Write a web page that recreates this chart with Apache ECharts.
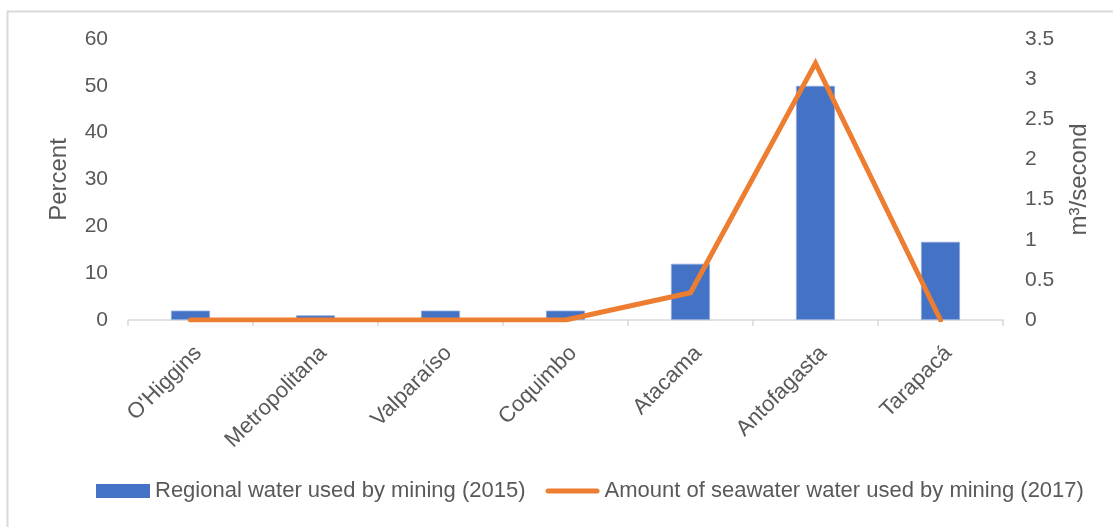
<!DOCTYPE html>
<html>
<head>
<meta charset="utf-8">
<script src="https://cdn.jsdelivr.net/npm/echarts@6/dist/echarts.min.js"></script>
<style>
  html, body { margin: 0; padding: 0; background: #fff; }
  #chart { width: 1113px; height: 527px; }
</style>
</head>
<body>
<div id="chart"></div>
<script>
// Mining regions of Chile
const regions = ['O\'Higgins', 'Metropolitana', 'Valparaíso', 'Coquimbo', 'Atacama', 'Antofagasta', 'Tarapacá'];
// Share of regional water used by mining, 2015 (%)
const miningWaterShare = [2, 1, 2, 2, 12, 50, 16.7];
// Seawater used by mining, 2017 (m³/s)
const seawaterUse = [0, 0, 0, 0, 0.34, 3.2, 0];
const barName = 'Regional water used by mining (2015)';
const lineName = 'Amount of seawater water used by mining (2017)';

const font = 'Liberation Sans, Arial, sans-serif';
const textColor = '#595959';
const barColor = '#4472C4';
const lineColor = '#ED7D31';

// thin rounded stroke for the line legend key (invisible moveTo points keep the full key box)
const lineKey = 'path://M0,0 M54,14 M2.5,4.5 L51.5,4.5 A2.5,2.5 0 0 1 51.5,9.5 L2.5,9.5 A2.5,2.5 0 0 1 2.5,4.5 Z';

const chart = echarts.init(document.getElementById('chart'));
chart.setOption({
  animation: false,
  textStyle: { fontFamily: font },
  graphic: [
    { type: 'polyline', shape: { points: [[7.5, 527], [7.5, 11.5], [1113, 11.5]] },
      style: { stroke: '#d9d9d9', lineWidth: 2, fill: null } }
  ],
  grid: { left: 128, right: 110, top: 39, bottom: 207 },
  legend: {
    top: 475,
    left: 91,
    itemGap: 20,
    itemWidth: 54,
    itemHeight: 14,
    textStyle: { fontSize: 22, color: textColor, fontFamily: font },
    data: [
      { name: barName, icon: 'rect', itemStyle: { color: barColor, borderWidth: 0 } },
      { name: lineName, icon: lineKey, itemStyle: { color: lineColor, borderWidth: 0 } }
    ]
  },
  xAxis: {
    type: 'category',
    data: regions,
    axisLine: { lineStyle: { color: '#d9d9d9', width: 1.5 } },
    axisTick: { show: true, length: 6, lineStyle: { color: '#d9d9d9', width: 1.5 } },
    axisLabel: { rotate: 45, fontSize: 22, color: textColor, margin: 22, verticalAlign: 'top' }
  },
  yAxis: [
    {
      type: 'value', min: 0, max: 60, interval: 10,
      name: 'Percent', nameLocation: 'middle', nameRotate: 90, nameGap: 57,
      nameTextStyle: { fontSize: 24, color: textColor },
      splitLine: { show: false },
      axisLine: { show: false }, axisTick: { show: false },
      axisLabel: { fontSize: 21, color: textColor, margin: 20 }
    },
    {
      type: 'value', min: 0, max: 3.5, interval: 0.5,
      name: 'm³/second', nameLocation: 'middle', nameRotate: 90, nameGap: 64,
      nameTextStyle: { fontSize: 24, color: textColor },
      splitLine: { show: false },
      axisLine: { show: false }, axisTick: { show: false },
      axisLabel: { fontSize: 21, color: textColor, margin: 22 }
    }
  ],
  series: [
    {
      name: barName,
      type: 'bar',
      data: miningWaterShare,
      barWidth: 39,
      itemStyle: { color: barColor, borderColor: '#8eaadc', borderWidth: 0.8 }
    },
    {
      name: lineName,
      type: 'line',
      yAxisIndex: 1,
      data: seawaterUse,
      symbol: 'none',
      lineStyle: { color: lineColor, width: 5, cap: 'round', join: 'miter' },
      itemStyle: { color: lineColor }
    }
  ]
});
</script>
</body>
</html>
